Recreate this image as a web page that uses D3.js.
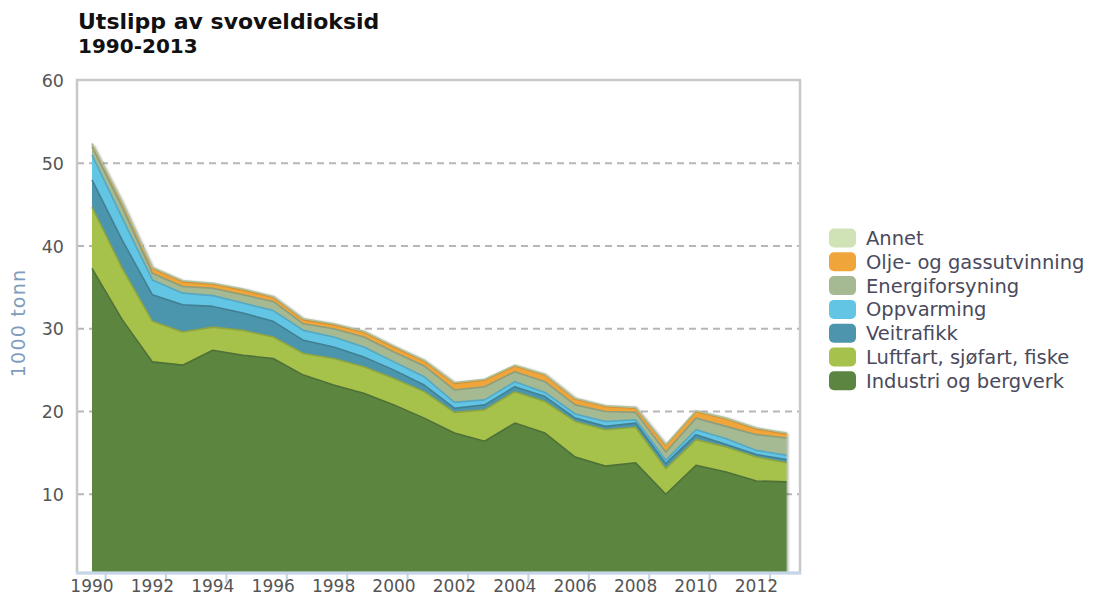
<!DOCTYPE html>
<html>
<head>
<meta charset="utf-8">
<script src="https://cdn.jsdelivr.net/npm/d3@7"></script>
<style>
  body { margin: 0; background: #fff; }
  svg text { font-family: "DejaVu Sans", Verdana, sans-serif; }
</style>
</head>
<body>
<svg id="chart" width="1096" height="598"></svg>
<script>
const years = d3.range(1990, 2014);

const seriesNames = [
    'Industri og bergverk',
    'Luftfart, sjøfart, fiske',
    'Veitrafikk',
    'Oppvarming',
    'Energiforsyning',
    'Olje- og gassutvinning',
    'Annet'
];

const seriesColors = ['#5b8540', '#a7c24c', '#4c95ad', '#63c5e4', '#a5b992', '#f0a53a', '#d0e3b6'];

// 1000 tonn per year, 1990-2013
const industri   = [37.3, 31.1, 26.0, 25.6, 27.4, 26.8, 26.4, 24.4, 23.2, 22.2, 20.8, 19.2, 17.4, 16.4, 18.6, 17.4, 14.5, 13.4, 13.8, 10.0, 13.5, 12.7, 11.6, 11.5];
const luftfart   = [7.4, 6.2, 4.9, 4.0, 2.8, 3.0, 2.6, 2.6, 3.2, 3.2, 3.2, 3.2, 2.5, 3.8, 3.8, 3.8, 4.3, 4.4, 4.3, 3.1, 3.1, 3.0, 2.9, 2.3];
const veitrafikk = [3.3, 3.4, 3.2, 3.3, 2.5, 2.1, 1.9, 1.6, 1.4, 1.2, 1.0, 0.8, 0.5, 0.6, 0.6, 0.6, 0.4, 0.4, 0.5, 0.6, 0.6, 0.3, 0.3, 0.4];
const oppvarming = [3.0, 2.7, 1.8, 1.4, 1.3, 1.2, 1.3, 1.2, 1.2, 1.2, 1.0, 1.0, 0.7, 0.6, 0.6, 0.5, 0.5, 0.6, 0.4, 0.4, 0.6, 0.7, 0.5, 0.5];
const energi     = [1.0, 1.3, 0.8, 0.8, 0.9, 1.0, 1.1, 0.8, 1.0, 1.2, 1.2, 1.3, 1.5, 1.6, 1.2, 1.3, 1.1, 1.2, 0.9, 1.0, 1.4, 1.5, 1.9, 2.1];
const olje       = [0.3, 0.5, 0.6, 0.6, 0.5, 0.6, 0.5, 0.5, 0.5, 0.6, 0.6, 0.6, 0.8, 0.8, 0.7, 0.8, 0.7, 0.6, 0.5, 0.8, 0.8, 0.9, 0.7, 0.5];
const annet      = [0.1, 0.1, 0.1, 0.1, 0.1, 0.1, 0.1, 0.1, 0.1, 0.1, 0.1, 0.1, 0.1, 0.1, 0.1, 0.1, 0.1, 0.1, 0.1, 0.1, 0.1, 0.1, 0.1, 0.1];

const seriesValues = [industri, luftfart, veitrafikk, oppvarming, energi, olje, annet];

const yTicks = [10, 20, 30, 40, 50, 60];
const xTickYears = d3.range(1990, 2013, 2);

const frame = { left: 77, right: 800, top: 80, bottom: 573 };

const svg = d3.select('#chart');

const x = d3.scaleLinear().domain([1990, 2013]).range([92, 786.6]);
const y = d3.scaleLinear().domain([0, 60]).range([577, 80.5]);

// title
svg.append('text')
    .attr('x', 78).attr('y', 29)
    .attr('font-size', 22).attr('font-weight', 'bold').attr('fill', '#111')
    .text('Utslipp av svoveldioksid');
svg.append('text')
    .attr('x', 78).attr('y', 53)
    .attr('font-size', 20).attr('font-weight', 'bold').attr('fill', '#111')
    .text('1990-2013');

const defs = svg.append('defs');
defs.append('clipPath').attr('id', 'plot-clip')
    .append('rect')
    .attr('x', frame.left + 1).attr('y', frame.top + 1)
    .attr('width', frame.right - frame.left - 2)
    .attr('height', frame.bottom - frame.top - 2);

const shadow = defs.append('filter').attr('id', 'shadow')
    .attr('x', '-5%').attr('y', '-5%').attr('width', '110%').attr('height', '110%');
shadow.append('feDropShadow')
    .attr('dx', 1.5).attr('dy', 0).attr('stdDeviation', 1.2)
    .attr('flood-color', '#000').attr('flood-opacity', 0.35);

// gridlines
svg.append('g')
    .selectAll('line')
    .data(yTicks.filter(d => d < 60))
    .join('line')
    .attr('x1', frame.left).attr('x2', frame.right)
    .attr('y1', d => y(d)).attr('y2', d => y(d))
    .attr('stroke', '#b7b7b7').attr('stroke-width', 2)
    .attr('stroke-dasharray', '7,5');

// stacked areas
const table = years.map((yr, i) => {
    const row = { year: yr };
    seriesNames.forEach((name, k) => { row[name] = seriesValues[k][i]; });
    return row;
});

const stack = d3.stack().keys(seriesNames);
const layers = stack(table);

const area = d3.area()
    .x(d => x(d.data.year))
    .y0(d => y(d[0]))
    .y1(d => y(d[1]));

const topLine = d3.line()
    .x(d => x(d.data.year))
    .y(d => y(d[1]));

const plot = svg.append('g').attr('clip-path', 'url(#plot-clip)');
const areas = plot.append('g').attr('filter', 'url(#shadow)');

layers.forEach((layer, i) => {
    areas.append('path')
        .attr('d', area(layer))
        .attr('fill', seriesColors[i]);
});
layers.forEach((layer, i) => {
    plot.append('path')
        .attr('d', topLine(layer))
        .attr('fill', 'none')
        .attr('stroke', d3.color(seriesColors[i]).darker(0.45))
        .attr('stroke-width', 1.6)
        .attr('stroke-linejoin', 'round');
});

// frame
svg.append('rect')
    .attr('x', frame.left).attr('y', frame.top)
    .attr('width', frame.right - frame.left)
    .attr('height', frame.bottom - frame.top)
    .attr('fill', 'none')
    .attr('stroke', '#c8c8c8').attr('stroke-width', 2.5);

// bottom axis
svg.append('line')
    .attr('x1', frame.left - 1).attr('x2', frame.right + 1)
    .attr('y1', frame.bottom).attr('y2', frame.bottom)
    .attr('stroke', '#c5d6e8').attr('stroke-width', 3);

svg.append('g')
    .selectAll('line')
    .data(xTickYears)
    .join('line')
    .attr('x1', d => x(d + 0.45)).attr('x2', d => x(d + 0.45))
    .attr('y1', frame.bottom).attr('y2', frame.bottom + 10)
    .attr('stroke', '#c0d2e6').attr('stroke-width', 2);

svg.append('g')
    .selectAll('text')
    .data(xTickYears)
    .join('text')
    .attr('x', d => x(d)).attr('y', 592)
    .attr('text-anchor', 'middle')
    .attr('font-size', 17).attr('fill', '#555')
    .text(d => d);

// y labels
svg.append('g')
    .selectAll('text')
    .data(yTicks)
    .join('text')
    .attr('x', 64).attr('y', d => y(d))
    .attr('dy', '0.38em')
    .attr('text-anchor', 'end')
    .attr('font-size', 17.5).attr('fill', '#555')
    .text(d => d);

svg.append('text')
    .attr('transform', 'translate(25,323) rotate(-90)')
    .attr('text-anchor', 'middle')
    .attr('font-size', 19).attr('letter-spacing', 1.2)
    .attr('fill', '#7f9cbd')
    .text('1000 tonn');

// legend, top of stack first
const legendItems = seriesNames.map((name, i) => ({ name, color: seriesColors[i] })).reverse();

const legend = svg.append('g')
    .selectAll('g')
    .data(legendItems)
    .join('g')
    .attr('transform', (d, i) => `translate(829,${238 + i * 23.8})`);

legend.append('rect')
    .attr('x', 0).attr('y', -9.5)
    .attr('width', 27).attr('height', 19)
    .attr('rx', 5)
    .attr('fill', d => d.color);

legend.append('text')
    .attr('x', 37).attr('y', 0)
    .attr('dy', '0.36em')
    .attr('font-size', 19.5).attr('fill', '#4a4a5c')
    .text(d => d.name);
</script>
</body>
</html>
